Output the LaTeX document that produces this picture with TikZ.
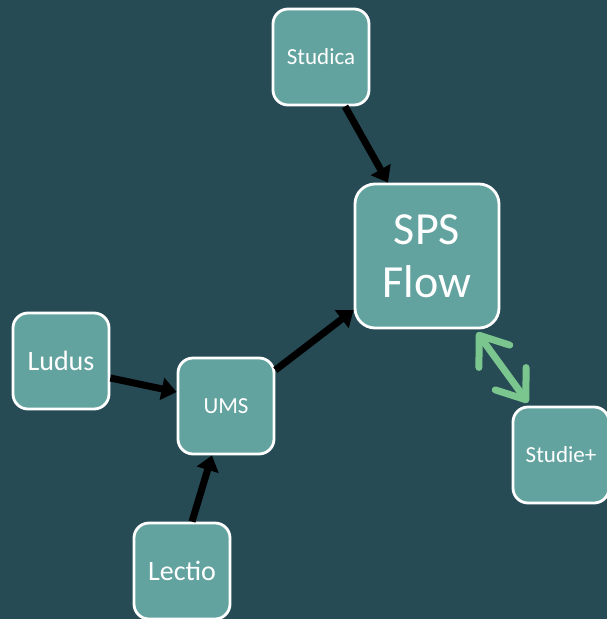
\documentclass[tikz,border=0pt]{standalone}
\usepackage{fontspec}
\setmainfont{Carlito}
\usetikzlibrary{arrows.meta,calc}
\definecolor{bg}{HTML}{264B55}
\definecolor{boxfill}{HTML}{62A39F}
\definecolor{grn}{HTML}{7BC58F}
\tikzset{
  box/.style={draw=white, line width=2.8pt, fill=boxfill, rounded corners=15pt,
    minimum width=96pt, minimum height=96pt, inner sep=0pt, text=white, align=center,
    font=\fontsize{23}{27}\selectfont},
  bigbox/.style={box, minimum width=144pt, minimum height=144pt, rounded corners=20pt,
    font=\fontsize{46}{53}\selectfont},
  midtext/.style={font=\fontsize{28}{32}\selectfont},
  blackarrow/.style={draw=black, line width=7pt, -{Triangle[length=15pt,width=22pt]}},
  greenarrow/.style={draw=grn, line width=7pt, line cap=round,
    {Straight Barb[length=26pt,width=38pt,round]}-{Straight Barb[length=26pt,width=38pt,round]}}
}
\begin{document}
\begin{tikzpicture}[x=1pt,y=-1pt]
\fill[bg] (0,0) rectangle (607,619);
\useasboundingbox (0,0) rectangle (607,619);
\node[box] (studica) at (321,57) {Studica};
\node[bigbox] (sps) at (427,256) {SPS\\Flow};
\node[box, midtext] (ludus) at (61,361) {Ludus};
\node[box] (ums) at (226,406) {UMS};
\node[box, midtext] (lectio) at (182,571) {Lectio};
\node[box] (studie) at (561,455) {Studie+};
\draw[blackarrow] ($(studica.south)+(24,0)$) -- ($(sps.north)+(-39,0)$);
\draw[blackarrow] ($(ludus.east)+(0,17)$) -- ($(ums.west)+(0,-14)$);
\draw[blackarrow] ($(lectio.north)+(10,0)$) -- ($(ums.south)+(-14,0)$);
\draw[blackarrow] ($(ums.east)+(0,-36)$) -- ($(sps.west)+(0,54)$);
\draw[greenarrow] ($(sps.south)+(50,3)$) -- ($(studie.north)+(-33,-3)$);
\end{tikzpicture}
\end{document}
